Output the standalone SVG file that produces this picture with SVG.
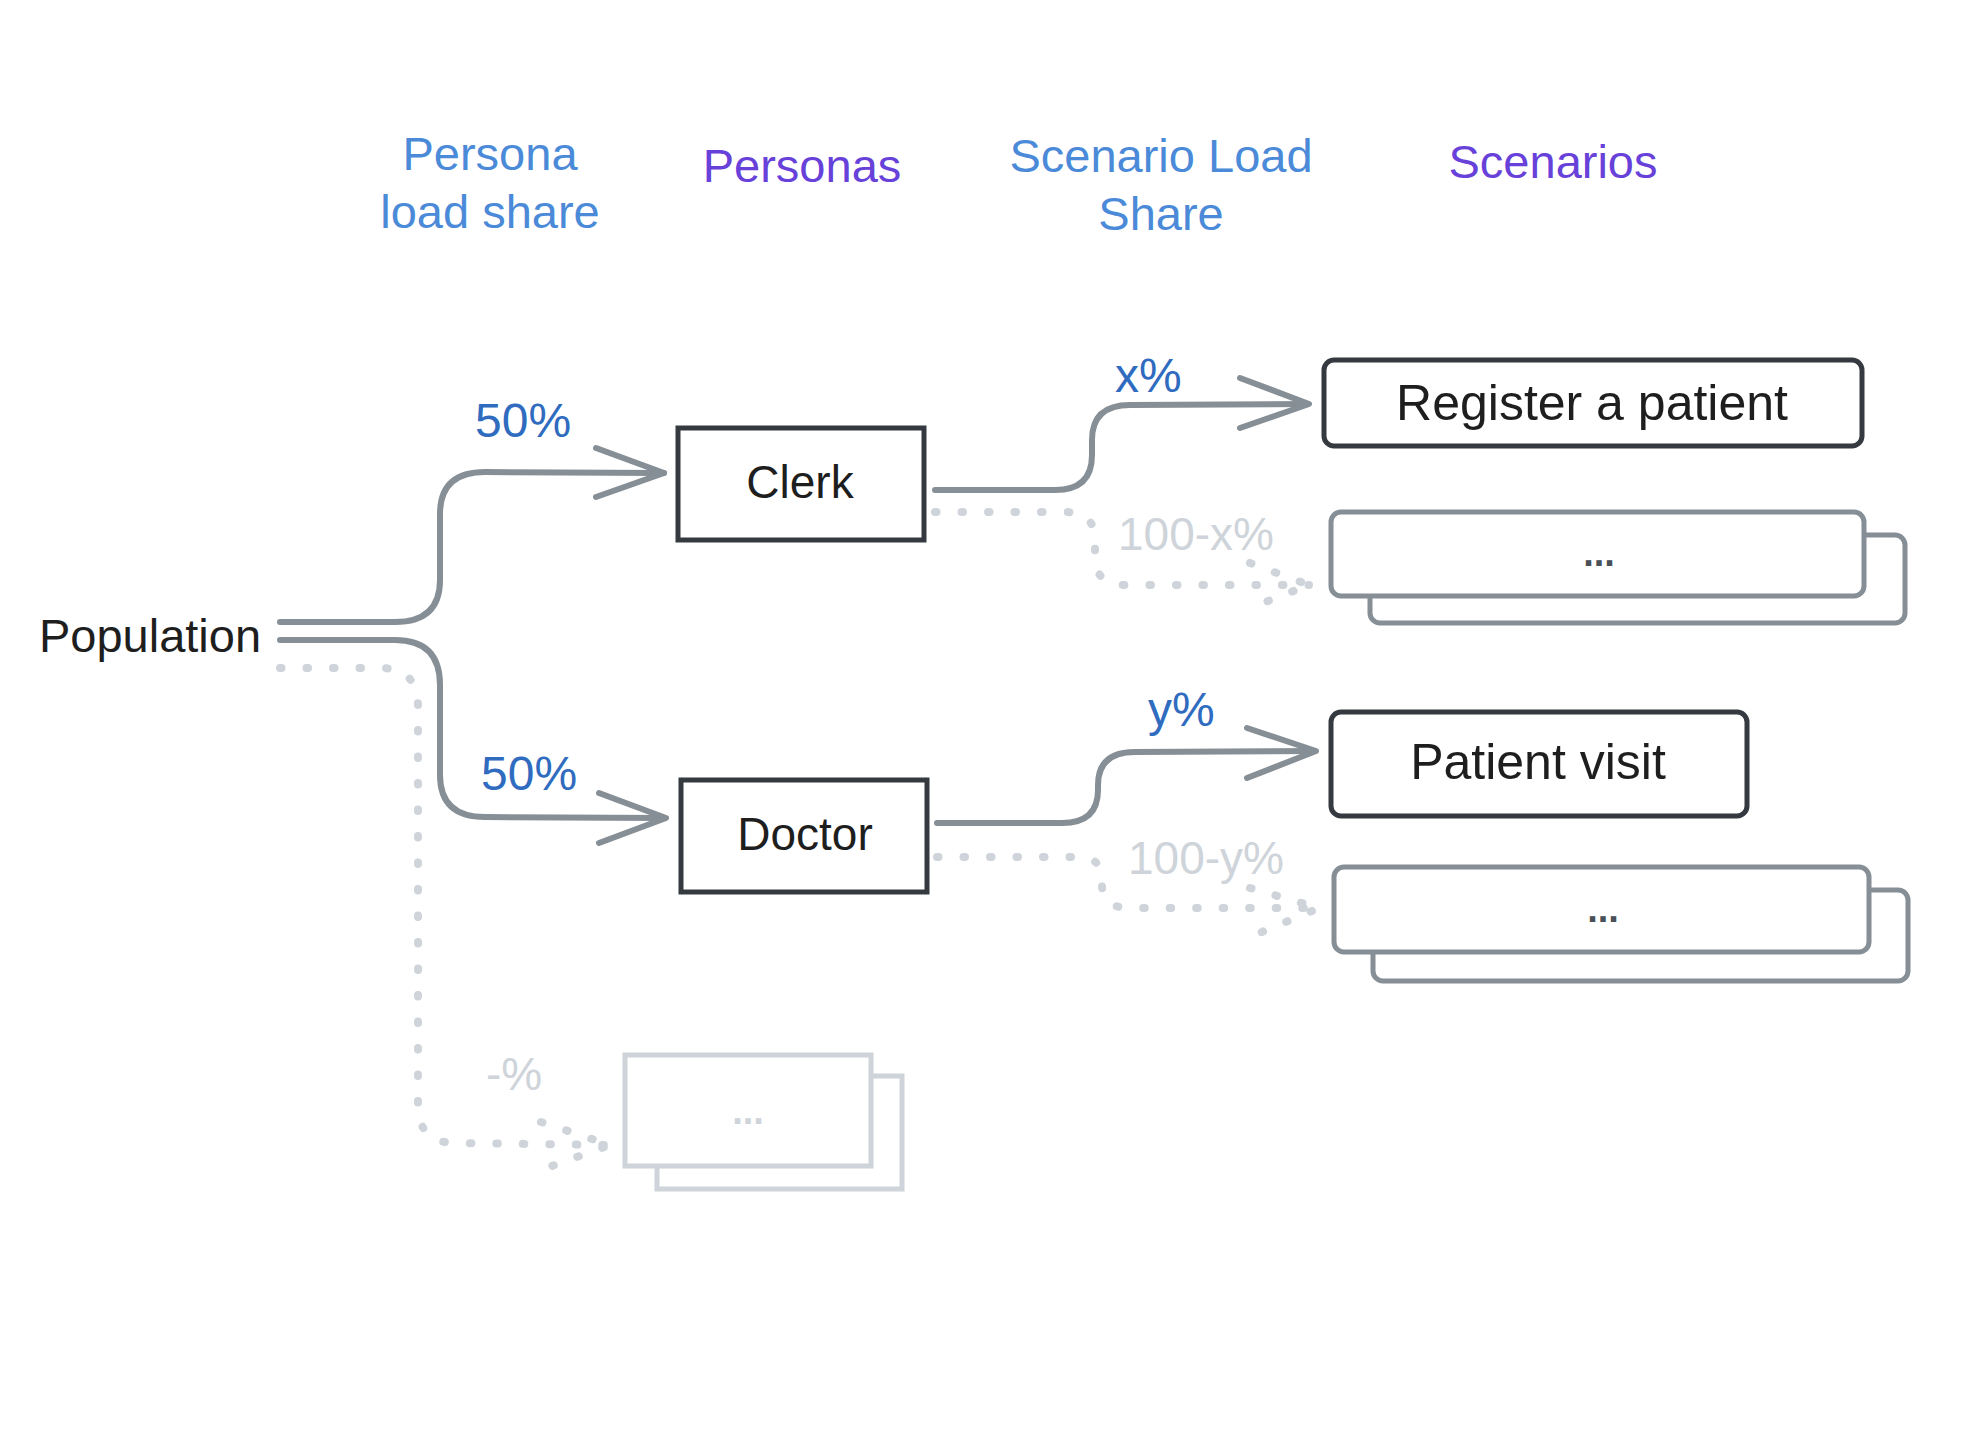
<svg xmlns="http://www.w3.org/2000/svg" width="1984" height="1444" viewBox="0 0 1984 1444">
<style>
text{font-family:"Liberation Sans","DejaVu Sans",sans-serif}
.hdr{font-size:47px;fill:#4a8ad8;text-anchor:middle}
.hdrp{font-size:47px;fill:#6741d9;text-anchor:middle}
.lbl{font-size:46px;fill:#1e1e1e;text-anchor:middle}
.pct{font-size:48px;fill:#2f6bbf}
.pctl{font-size:46px;fill:#ced4da}
.dots{font-size:38px;font-weight:bold;text-anchor:middle}
.box{fill:#fff;stroke:#343a40;stroke-width:5}
.gbox{fill:#fff;stroke:#868e96;stroke-width:5}
.lbox{fill:#fff;stroke:#ced4da;stroke-width:5}
.arr{fill:none;stroke:#868e96;stroke-width:6;stroke-linecap:round;stroke-linejoin:round}
.dot{fill:none;stroke:#ced4da;stroke-width:8;stroke-linecap:round;stroke-linejoin:round;stroke-dasharray:1.5 25}
</style>
<rect width="1984" height="1444" fill="#fff"/>
<g id="headers">
<text class="hdr" x="490" y="170">Persona</text>
<text class="hdr" x="490" y="228">load share</text>
<text class="hdrp" x="802" y="182">Personas</text>
<text class="hdr" x="1161" y="172">Scenario Load</text>
<text class="hdr" x="1161" y="230">Share</text>
<text class="hdrp" x="1553" y="178">Scenarios</text>
</g>
<g id="connectors">
<path class="arr" d="M280,622 L395,622 Q440,622 440,580 L440,514 Q440,472 485,472 L664,473"/>
<path class="arr" d="M596,448 L664,473 L596,497"/>
<path class="arr" d="M280,640 L395,640 Q440,640 440,685 L440,775 Q440,817 485,817 L664,818"/>
<path class="arr" d="M599,793 L666,818 L599,843"/>
<path class="dot" d="M280,668 L380,668 Q418,668 418,706 L418,1105 Q418,1143 456,1143 L610,1145"/>
<path class="dot" d="M541,1122 L610,1145 L541,1170"/>
<path class="arr" d="M935,490 L1055,490 Q1092,490 1092,455 L1092,440 Q1092,405 1130,405 L1307,404"/>
<path class="arr" d="M1240,378 L1309,404 L1240,428"/>
<path class="dot" d="M935,512 L1065,512 Q1095,512 1095,540 L1095,557 Q1095,585 1125,585 L1309,585"/>
<path class="dot" d="M1250,563 L1309,585 L1250,608"/>
<path class="arr" d="M937,823 L1062,823 Q1098,823 1098,790 L1098,785 Q1098,752 1135,752 L1314,751"/>
<path class="arr" d="M1247,728 L1316,751 L1247,778"/>
<path class="dot" d="M937,857 L1079,857 Q1102,857 1102,880 L1102,885 Q1102,908 1130,908 L1319,908"/>
<path class="dot" d="M1250,888 L1319,908 L1250,937"/>
</g>
<g id="labels">
<text class="pct" x="475" y="437">50%</text>
<text class="pct" x="481" y="790">50%</text>
<text class="pct" x="1115" y="392">x%</text>
<text class="pct" x="1148" y="726">y%</text>
<text class="pctl" x="1118" y="550">100-x%</text>
<text class="pctl" x="1128" y="874">100-y%</text>
<text class="pctl" x="486" y="1090">-%</text>
</g>
<g id="population">
<text class="lbl" x="150" y="652" style="font-size:47px">Population</text>
</g>
<g id="clerk">
<rect class="box" x="678" y="428" width="246" height="112"/>
<text class="lbl" x="800" y="498">Clerk</text>
</g>
<g id="doctor">
<rect class="box" x="681" y="780" width="246" height="112"/>
<text class="lbl" x="805" y="850">Doctor</text>
</g>
<g id="register">
<rect class="box" x="1324" y="360" width="538" height="86" rx="10"/>
<text class="lbl" x="1592" y="420" style="font-size:50px">Register a patient</text>
</g>
<g id="other-clerk-scenarios">
<rect class="gbox" x="1370" y="535" width="535" height="88" rx="10"/>
<rect class="gbox" x="1331" y="512" width="533" height="84" rx="10"/>
<text class="dots" x="1599" y="566" fill="#495057">...</text>
</g>
<g id="patient-visit">
<rect class="box" x="1331" y="712" width="416" height="104" rx="10"/>
<text class="lbl" x="1538" y="779" style="font-size:50px">Patient visit</text>
</g>
<g id="other-doctor-scenarios">
<rect class="gbox" x="1373" y="890" width="535" height="91" rx="10"/>
<rect class="gbox" x="1334" y="867" width="535" height="85" rx="10"/>
<text class="dots" x="1603" y="922" fill="#495057">...</text>
</g>
<g id="other-personas">
<rect class="lbox" x="657" y="1076" width="245" height="113"/>
<rect class="lbox" x="625" y="1055" width="246" height="111"/>
<text class="dots" x="748" y="1124" fill="#ced4da">...</text>
</g>
</svg>
